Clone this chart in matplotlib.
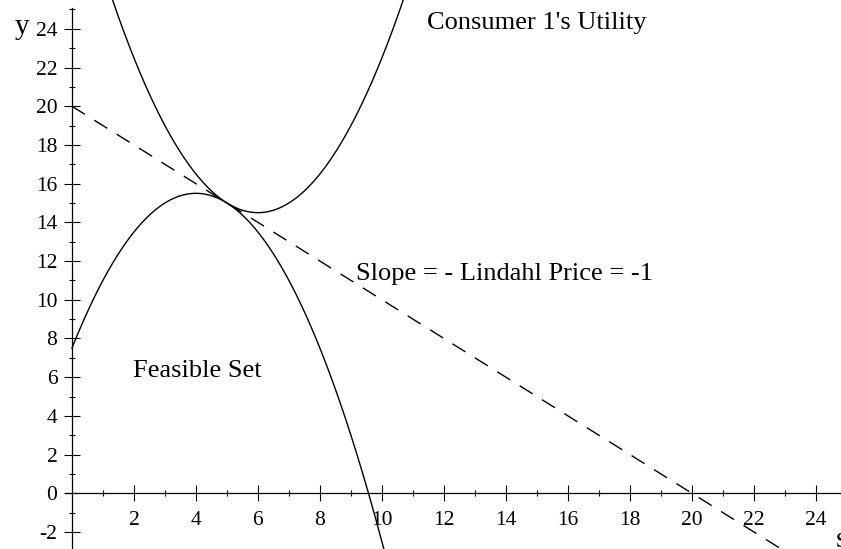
import numpy as np
import matplotlib
matplotlib.use("Agg")
import matplotlib.pyplot as plt
from matplotlib.ticker import FixedLocator, FuncFormatter

plt.rcParams['font.family'] = ['Liberation Serif', 'DejaVu Serif']
plt.rcParams['lines.scale_dashes'] = False

# feasible set boundary: y = c0 + c1*s + c2*s^2
feasible_coef = [7.5, 4.0, -0.5]
feasible_s = [0.0, 10.3]
# consumer 1 utility: y = y0 + k*(s - s0)^2
utility_vertex = [6.0, 14.5]
utility_k = 0.5
utility_s = [1.2, 10.8]
# budget line with slope = -Lindahl price
line_intercept = 20.0
line_slope = -1.0
line_s = [0.0, 23.5]

x_major = list(range(2, 26, 2))
x_minor = list(range(1, 26, 2))
y_major = list(range(-2, 26, 2))
y_minor = list(range(-1, 26, 2))


def draw_figure():
    fig = plt.figure(figsize=(8.41, 5.49), dpi=100)
    ax = fig.add_axes([0, 0, 1, 1])
    ax.set_xlim(-2.32, 24.81)
    ax.set_ylim(-2.88, 25.49)

    s = np.linspace(feasible_s[0], feasible_s[1], 400)
    ax.plot(s, feasible_coef[0] + feasible_coef[1] * s + feasible_coef[2] * s ** 2,
            color='black', lw=1.0)

    s = np.linspace(utility_s[0], utility_s[1], 400)
    ax.plot(s, utility_vertex[1] + utility_k * (s - utility_vertex[0]) ** 2,
            color='black', lw=1.0)

    s = np.linspace(line_s[0], line_s[1], 2)
    ax.plot(s, line_intercept + line_slope * s, color='black', lw=1.0,
            linestyle=(0, (11, 8)))

    # axes through the origin
    for side in ['top', 'right']:
        ax.spines[side].set_visible(False)
    ax.spines['left'].set_position(('data', 0))
    ax.spines['bottom'].set_position(('data', 0))
    ax.spines['left'].set_bounds(-2.88, 25.1)
    ax.spines['bottom'].set_bounds(-0.23, 24.81)
    for sp in ['left', 'bottom']:
        ax.spines[sp].set_linewidth(0.9)

    ax.xaxis.set_major_locator(FixedLocator(x_major))
    ax.xaxis.set_minor_locator(FixedLocator(x_minor))
    ax.yaxis.set_major_locator(FixedLocator(y_major))
    ax.yaxis.set_minor_locator(FixedLocator(y_minor))
    ax.xaxis.set_major_formatter(FuncFormatter(lambda v, p: '%d' % v))
    ax.yaxis.set_major_formatter(FuncFormatter(lambda v, p: '%d' % v))
    ax.tick_params(which='major', direction='inout', length=11, width=0.8,
                   labelsize=15.5)
    ax.tick_params(axis='x', which='major', pad=7)
    ax.tick_params(axis='y', which='major', pad=5)
    ax.tick_params(which='minor', direction='inout', length=5, width=0.8)
    ax.set_facecolor('none')

    ax.text(11.45, 24.0, "Consumer 1's Utility", fontsize=19, ha='left', va='baseline')
    ax.text(9.15, 11.0, "Slope = - Lindahl Price = -1", fontsize=19, ha='left', va='baseline')
    ax.text(1.96, 6.0, "Feasible Set", fontsize=19, ha='left', va='baseline')
    ax.text(-1.85, 23.75, "y", fontsize=21, ha='left', va='baseline')
    ax.text(24.65, -2.8, "s", fontsize=21, ha='left', va='baseline', clip_on=False)

    fig.savefig("out.png", dpi=100)
    plt.close(fig)


if __name__ == "__main__":
    draw_figure()
